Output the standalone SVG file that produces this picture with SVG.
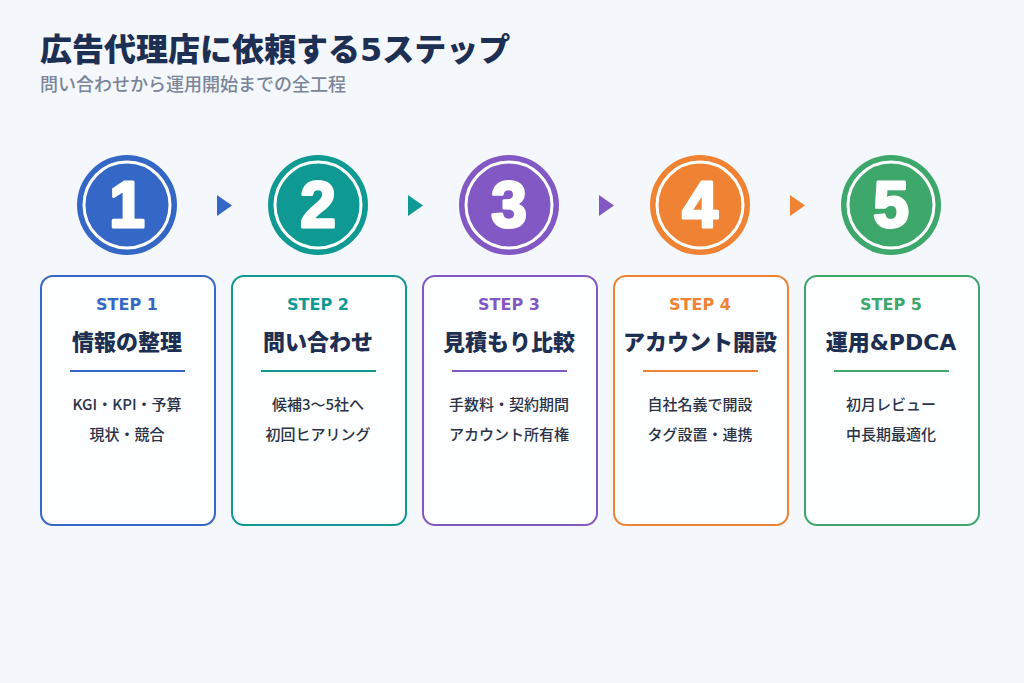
<svg xmlns="http://www.w3.org/2000/svg" width="1024" height="683" viewBox="0 0 1024 683">
<style>
.bg{fill:#f4f7fc}
.ttl{font-family:"DejaVu Sans","Noto Sans CJK JP",sans-serif;font-weight:900;font-size:32px;fill:#1d2f52}
.sub{font-family:"Noto Sans CJK JP","Noto Sans",sans-serif;font-weight:500;font-size:18px;fill:#7b8598}
.card{fill:#fdfeff;stroke-width:2}
.ring{fill:none;stroke:#ffffff;stroke-width:3}
.num{font-family:"Liberation Sans",sans-serif;font-weight:700;font-size:64px;fill:#ffffff;stroke:#ffffff;stroke-width:3;stroke-linejoin:round;text-anchor:middle}
.step{font-family:"DejaVu Sans",sans-serif;font-weight:700;font-size:16px;text-anchor:middle}
.name{font-family:"DejaVu Sans","Noto Sans CJK JP",sans-serif;font-weight:900;font-size:22px;fill:#1d2f52;text-anchor:middle}
.body{font-family:"Noto Sans CJK JP","Noto Sans",sans-serif;font-weight:500;font-size:15px;fill:#2a3347;text-anchor:middle}
.c1{fill:#3568c6}
.c2{fill:#0e9a93}
.c3{fill:#8259c4}
.c4{fill:#ef8333}
.c5{fill:#3da76c}
.s1{stroke:#3568c6}.s2{stroke:#0e9a93}.s3{stroke:#8259c4}.s4{stroke:#ef8333}.s5{stroke:#3da76c}
</style>
<rect class="bg" x="0" y="0" width="1024" height="683"/>
<text class="ttl" x="40" y="61">広告代理店に依頼する5ステップ</text>
<text class="sub" x="40" y="91">問い合わせから運用開始までの全工程</text>

<g id="connectors">
<polygon class="c1" points="217,195 232,205.5 217,216"/>
<polygon class="c2" points="408,195 423,205.5 408,216"/>
<polygon class="c3" points="599,195 614,205.5 599,216"/>
<polygon class="c4" points="790,195 805,205.5 790,216"/>
</g>

<g id="step1">
<circle class="c1" cx="127" cy="205" r="50"/>
<circle class="ring" cx="127" cy="205" r="43"/>
<text class="num" x="127" y="227">1</text>
<rect class="card s1" x="41" y="276" width="174" height="249" rx="12"/>
<text class="step c1" x="127" y="310">STEP 1</text>
<text class="name" x="127" y="350">情報の整理</text>
<line x1="70" y1="371" x2="185" y2="371" class="s1" stroke-width="2"/>
<text class="body" x="127" y="410">KGI・KPI・予算</text>
<text class="body" x="127" y="440">現状・競合</text>
</g>

<g id="step2">
<circle class="c2" cx="318" cy="205" r="50"/>
<circle class="ring" cx="318" cy="205" r="43"/>
<text class="num" x="318" y="227">2</text>
<rect class="card s2" x="232" y="276" width="174" height="249" rx="12"/>
<text class="step c2" x="318" y="310">STEP 2</text>
<text class="name" x="318" y="350">問い合わせ</text>
<line x1="261" y1="371" x2="376" y2="371" class="s2" stroke-width="2"/>
<text class="body" x="318" y="410">候補3〜5社へ</text>
<text class="body" x="318" y="440">初回ヒアリング</text>
</g>

<g id="step3">
<circle class="c3" cx="509" cy="205" r="50"/>
<circle class="ring" cx="509" cy="205" r="43"/>
<text class="num" x="509" y="227">3</text>
<rect class="card s3" x="423" y="276" width="174" height="249" rx="12"/>
<text class="step c3" x="509" y="310">STEP 3</text>
<text class="name" x="509" y="350">見積もり比較</text>
<line x1="452" y1="371" x2="567" y2="371" class="s3" stroke-width="2"/>
<text class="body" x="509" y="410">手数料・契約期間</text>
<text class="body" x="509" y="440">アカウント所有権</text>
</g>

<g id="step4">
<circle class="c4" cx="700" cy="205" r="50"/>
<circle class="ring" cx="700" cy="205" r="43"/>
<text class="num" x="700" y="227">4</text>
<rect class="card s4" x="614" y="276" width="174" height="249" rx="12"/>
<text class="step c4" x="700" y="310">STEP 4</text>
<text class="name" x="700" y="350">アカウント開設</text>
<line x1="643" y1="371" x2="758" y2="371" class="s4" stroke-width="2"/>
<text class="body" x="700" y="410">自社名義で開設</text>
<text class="body" x="700" y="440">タグ設置・連携</text>
</g>

<g id="step5">
<circle class="c5" cx="891" cy="205" r="50"/>
<circle class="ring" cx="891" cy="205" r="43"/>
<text class="num" x="891" y="227">5</text>
<rect class="card s5" x="805" y="276" width="174" height="249" rx="12"/>
<text class="step c5" x="891" y="310">STEP 5</text>
<text class="name" x="891" y="350">運用&amp;PDCA</text>
<line x1="834" y1="371" x2="949" y2="371" class="s5" stroke-width="2"/>
<text class="body" x="891" y="410">初月レビュー</text>
<text class="body" x="891" y="440">中長期最適化</text>
</g>
</svg>
